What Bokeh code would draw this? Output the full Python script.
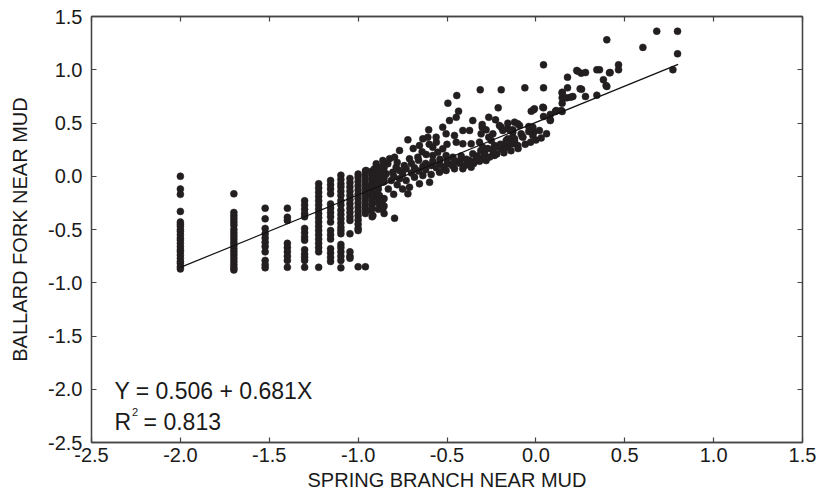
from bokeh.plotting import figure
from bokeh.models import FixedTicker, PrintfTickFormatter, LinearAxis, Range1d, CustomJSTickFormatter
from bokeh.embed import file_html
from bokeh.resources import INLINE
from bokeh.core.properties import value

# ---------------- data ----------------
x_ticks = [-2.5, -2.0, -1.5, -1.0, -0.5, 0.0, 0.5, 1.0, 1.5]
y_ticks = [-2.5, -2.0, -1.5, -1.0, -0.5, 0.0, 0.5, 1.0, 1.5]
intercept = 0.506
slope = 0.681
r2 = 0.813
fit_x = [-2.0, 0.8]
x_title = "SPRING BRANCH NEAR MUD"
y_title = "BALLARD FORK NEAR MUD"

# discrete (log-scale) x columns
col_x = [-2.0, -1.699, -1.523, -1.398, -1.301, -1.222, -1.155, -1.097,
         -1.046, -1.0, -0.959, -0.921, -0.886, -0.854]
col_y = [
    [0.0, -0.12, -0.17, -0.33, -0.43, -0.45, -0.47, -0.5, -0.52, -0.55, -0.58, -0.6,
     -0.63, -0.66, -0.69, -0.71, -0.74, -0.77, -0.8, -0.82, -0.85, -0.87],
    [-0.165, -0.34, -0.37, -0.4, -0.43, -0.46, -0.5, -0.53, -0.56, -0.59, -0.62,
     -0.65, -0.68, -0.71, -0.74, -0.77, -0.8, -0.83, -0.86, -0.88],
    [-0.3, -0.4, -0.49, -0.54, -0.58, -0.62, -0.66, -0.71, -0.79, -0.83, -0.86],
    [-0.3, -0.385, -0.415, -0.63, -0.67, -0.71, -0.75, -0.79, -0.855],
    [-0.23, -0.27, -0.31, -0.35, -0.38, -0.49, -0.53, -0.57, -0.6, -0.69, -0.73,
     -0.76, -0.79, -0.855],
    [-0.07, -0.11, -0.15, -0.19, -0.23, -0.27, -0.31, -0.35, -0.39, -0.43, -0.47,
     -0.51, -0.55, -0.59, -0.63, -0.67, -0.71, -0.855],
    [-0.04, -0.08, -0.12, -0.165, -0.26, -0.3, -0.34, -0.38, -0.43, -0.51, -0.55,
     -0.59, -0.68, -0.72, -0.76, -0.8],
    [0.01, -0.03, -0.07, -0.1, -0.14, -0.18, -0.23, -0.27, -0.32, -0.36, -0.4, -0.44,
     -0.48, -0.51, -0.54, -0.64, -0.67, -0.71, -0.75, -0.79, -0.86],
    [-0.02, -0.06, -0.1, -0.14, -0.18, -0.22, -0.26, -0.3, -0.34, -0.38, -0.415,
     -0.54, -0.71, -0.75, -0.77],
    [0.02, -0.01, -0.05, -0.09, -0.13, -0.17, -0.21, -0.25, -0.29, -0.33, -0.37,
     -0.41, -0.45, -0.49, -0.51, -0.85],
    [0.05, 0.01, -0.03, -0.07, -0.11, -0.15, -0.19, -0.23, -0.27, -0.31, -0.35, -0.85],
    [0.05, 0.02, -0.02, -0.06, -0.1, -0.14, -0.18, -0.22, -0.26, -0.3, -0.38],
    [0.08, 0.04, 0.0, -0.04, -0.08, -0.12, -0.18, -0.21, -0.25, -0.31],
    [0.12, 0.08, 0.03, -0.01, -0.05, -0.21, -0.28, -0.35],
]

# continuous cloud (x, y)
cloud_pts = [
    (0.680, 1.362), (0.797, 1.362), (0.399, 1.281), (0.602, 1.21), (0.797, 1.150),
    (0.771, 1.0), (0.043, 1.046), (0.230, 0.993), (0.255, 0.968), (0.279, 0.974),
    (0.343, 1.0), (0.418, 0.974), (0.465, 1.046), (0.465, 1.0), (0.178, 0.930),
    (0.380, 0.906), (0.399, 0.843), (0.257, 0.817), (0.178, 0.830), (0.148, 0.789),
    (0.279, 0.749), (0.343, 0.761), (0.148, 0.736), (0.174, 0.736), (0.208, 0.749),
    (0.148, 0.686), (0.143, 0.617), (0.114, 0.617), (0.081, 0.580), (0.081, 0.530),
    (0.043, 0.643), (0.043, 0.561), (-0.013, 0.624), (-0.026, 0.611), (0.043, 0.830),
    (-0.062, 0.830), (-0.195, 0.812), (-0.313, 0.812), (-0.212, 0.643), (-0.040, 0.467),
    (-0.017, 0.404), (-0.120, 0.508), (-0.092, 0.477), (-0.265, 0.554), (-0.227, 0.530),
    (-0.302, 0.461), (-0.195, 0.461), (-0.158, 0.446), (-0.130, 0.436), (-0.077, 0.373),
    (-0.130, 0.367), (-0.158, 0.351), (-0.189, 0.289), (-0.233, 0.289), (-0.265, 0.367),
    (-0.299, 0.273), (-0.289, 0.195), (-0.238, 0.204), (0.195, 0.742), (0.148, 0.780),
    (0.039, 0.648), (-0.008, 0.633), (0.110, 0.608), (0.148, 0.608), (0.081, 0.523),
    (-0.013, 0.414), (-0.144, 0.430), (-0.130, 0.305), (0.414, 0.971), (0.358, 1.0),
    (0.236, 0.986), (0.395, 0.852), (0.249, 0.821),
    (-0.445, 0.758), (-0.495, 0.686), (-0.435, 0.611), (-0.448, 0.554), (-0.486, 0.523),
    (-0.355, 0.523), (-0.524, 0.461), (-0.603, 0.436), (-0.302, 0.486), (-0.205, 0.477),
    (-0.158, 0.498), (-0.102, 0.493), (-0.017, 0.461),
    (-0.72, 0.342), (-0.636, 0.351), (-0.608, 0.367), (-0.561, 0.367), (-0.505, 0.398),
    (-0.458, 0.383), (-0.411, 0.430), (-0.373, 0.430), (-0.308, 0.398), (-0.280, 0.436),
    (-0.242, 0.398), (-0.186, 0.430), (-0.130, 0.414), (-0.083, 0.398), (-0.017, 0.383),
    (-0.448, 0.320), (-0.411, 0.305), (-0.364, 0.305), (-0.317, 0.320), (-0.251, 0.336),
    (-0.167, 0.336), (-0.120, 0.351), (-0.073, 0.367),
    (-0.655, 0.289), (-0.580, 0.273), (-0.524, 0.258), (-0.552, 0.226), (-0.767, 0.242),
    (-0.823, 0.164), (-0.795, 0.179), (-0.711, 0.164), (-0.664, 0.179), (-0.617, 0.204),
    (-0.580, 0.195), (-0.505, 0.195), (-0.467, 0.179), (-0.420, 0.164), (-0.373, 0.148),
    (-0.336, 0.164), (-0.289, 0.226), (-0.242, 0.242), (-0.195, 0.258), (-0.158, 0.273),
    (-0.102, 0.289), (-0.233, 0.195), (-0.280, 0.148), (-0.355, 0.211),
    (-0.955, 0.054), (-0.908, 0.070), (-0.870, 0.085), (-0.880, 0.007), (-0.842, 0.023),
    (-0.805, 0.038), (-0.767, 0.054), (-0.730, 0.070), (-0.683, 0.079), (-0.636, 0.092),
    (-0.589, 0.101), (-0.542, 0.117), (-0.495, 0.117), (-0.430, 0.123), (-0.383, 0.117),
    (-0.317, 0.141), (-0.917, -0.024), (-0.861, -0.056), (-0.814, -0.040), (-0.767, -0.024),
    (-0.730, -0.040), (-0.683, -0.009), (-0.636, 0.007), (-0.589, 0.017), (-0.542, 0.038),
    (-0.505, 0.054), (-0.458, 0.070), (-0.411, 0.070), (-0.364, 0.085),
    (-0.655, -0.071), (-0.598, -0.056), (-0.711, -0.103), (-0.720, -0.165), (-0.936, -0.103),
    (-0.898, -0.134), (-0.927, -0.181), (-0.880, -0.181), (-0.927, -0.322), (-0.861, -0.306),
    (-0.917, -0.369), (-0.795, -0.394), (-0.833, 0.117), (-0.786, 0.085), (-0.861, 0.148),
    (-0.898, 0.117),
    (-0.80, 0.00), (-0.75, 0.02), (-0.70, 0.03), (-0.66, 0.05), (-0.62, 0.06), (-0.56, 0.08),
    (-0.52, 0.09), (-0.47, 0.10), (-0.45, 0.14), (-0.40, 0.10), (-0.35, 0.12), (-0.30, 0.17),
    (-0.26, 0.18), (-0.22, 0.21), (-0.18, 0.22), (-0.14, 0.24), (-0.10, 0.26), (-0.06, 0.30),
    (-0.03, 0.32), (0.0, 0.34), (0.03, 0.36), (0.06, 0.40), (0.02, 0.43), (-0.04, 0.42),
    (-0.83, -0.12), (-0.78, -0.08), (-0.75, -0.12), (-0.80, -0.17), (-0.86, -0.22),
    (-0.62, 0.12), (-0.58, 0.14), (-0.54, 0.16), (-0.50, 0.15), (-0.46, 0.13), (-0.42, 0.19),
    (-0.39, 0.16), (-0.33, 0.19), (-0.31, 0.24), (-0.27, 0.26), (-0.23, 0.27), (-0.20, 0.30),
    (-0.16, 0.31), (-0.12, 0.33), (-0.70, 0.12), (-0.74, 0.10), (-0.78, 0.13), (-0.66, 0.15),
    (-0.64, 0.23), (-0.69, 0.26), (-0.60, 0.30), (-0.50, 0.30), (-0.56, 0.32),
]

# ---------------- figure ----------------
FONT = "Liberation Sans"
DOT = "#231f20"
FRAME = "#444444"
TXT = "#1a1a1a"

p = figure(frame_width=711, frame_height=426, output_backend="svg", toolbar_location=None,
           x_range=Range1d(-2.5, 1.5), y_range=Range1d(-2.5, 1.5),
           min_border_left=91, min_border_top=16, min_border_right=15, min_border_bottom=10,
           background_fill_color="white", border_fill_color="white")
p.outline_line_color = FRAME
p.outline_line_width = 1.3
p.grid.visible = False

for ax in p.xaxis + p.yaxis:
    ax.major_tick_in = 5
    ax.major_tick_out = 0
    ax.minor_tick_line_color = None
    ax.axis_line_color = FRAME
    ax.axis_line_width = 1.3
    ax.major_tick_line_color = FRAME
    ax.major_tick_line_width = 1.2
    ax.major_label_text_font = FONT
    ax.major_label_text_font_size = "20px"
    ax.major_label_text_color = TXT
    ax.axis_label_text_font = FONT
    ax.axis_label_text_font_size = "20px"
    ax.axis_label_text_font_style = "normal"
    ax.axis_label_text_color = TXT
    ax.formatter = PrintfTickFormatter(format="%.1f")

p.xaxis.ticker = FixedTicker(ticks=x_ticks)
p.yaxis.ticker = FixedTicker(ticks=y_ticks)
p.xaxis.axis_label = x_title
p.yaxis.axis_label = y_title
p.xaxis.major_label_standoff = 5
p.xaxis.axis_label_standoff = 4
p.yaxis.major_label_standoff = 9
p.yaxis.axis_label_standoff = 14

for loc, ticks in (("above", x_ticks), ("right", y_ticks)):
    ax = LinearAxis(ticker=FixedTicker(ticks=ticks),
                    formatter=CustomJSTickFormatter(code="return ''"))
    ax.major_tick_in = 5
    ax.major_tick_out = 0
    ax.minor_tick_line_color = None
    ax.axis_line_color = FRAME
    ax.axis_line_width = 1.3
    ax.major_tick_line_color = FRAME
    ax.major_tick_line_width = 1.2
    ax.major_label_standoff = 0
    ax.major_label_text_font_size = "1px"
    p.add_layout(ax, loc)

# points
px, py = [], []
for cx, ys in zip(col_x, col_y):
    for yy in ys:
        px.append(cx)
        py.append(yy)
for cx, cy in cloud_pts:
    px.append(cx)
    py.append(cy)
p.scatter(px, py, size=7, fill_color=DOT, line_color=DOT, line_width=0.5)

# regression line
fit_y = [intercept + slope * xx for xx in fit_x]
p.line(fit_x, fit_y, line_color="#111111", line_width=1.2)

# annotation
p.text(x=[-2.371], y=[-2.021], text=["Y = %.3f + %.3fX" % (intercept, slope)],
       text_font=value(FONT), text_font_size="23px", text_color=TXT,
       text_baseline="alphabetic", text_align="left")
p.text(x=[-2.371], y=[-2.303], text=["R"],
       text_font=value(FONT), text_font_size="23px", text_color=TXT,
       text_baseline="alphabetic", text_align="left")
p.text(x=[-2.272], y=[-2.212], text=["2"],
       text_font=value(FONT), text_font_size="11px", text_color=TXT,
       text_baseline="alphabetic", text_align="left")
p.text(x=[-2.207], y=[-2.303], text=["= %.3f" % r2],
       text_font=value(FONT), text_font_size="23px", text_color=TXT,
       text_baseline="alphabetic", text_align="left")

open("out.html", "w").write(file_html(p, INLINE))
